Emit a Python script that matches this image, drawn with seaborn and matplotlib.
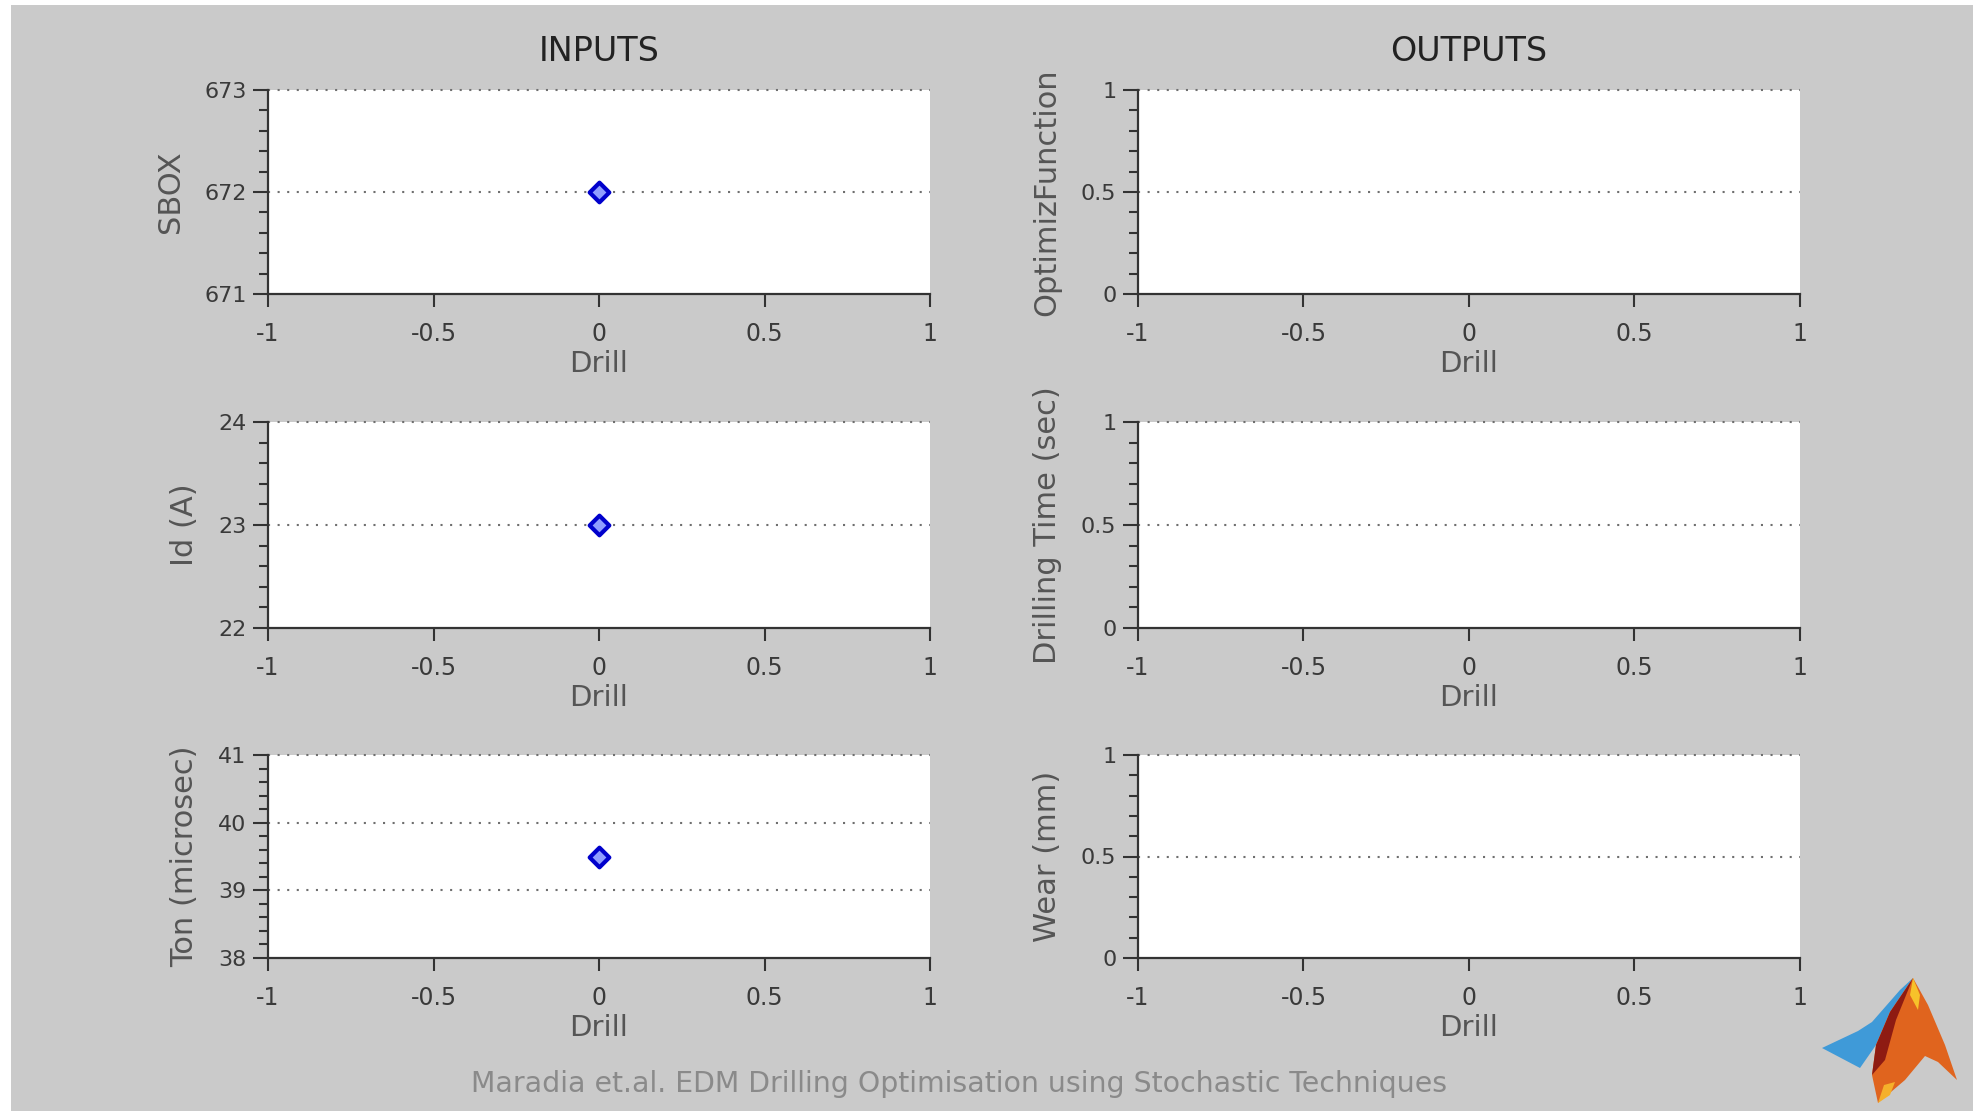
import matplotlib
matplotlib.use("Agg")
import matplotlib.pyplot as plt
import seaborn as sns
import numpy as np
import pandas as pd
from matplotlib.patches import Rectangle, Polygon
from matplotlib.ticker import MultipleLocator, FixedLocator

# ---------------- data ----------------
x_label = "Drill"
x_ticks = [-1, -0.5, 0, 0.5, 1]
x_ticklabels = ["-1", "-0.5", "0", "0.5", "1"]

input_names = ["SBOX", "Id (A)", "Ton (microsec)"]
input_x = [0, 0, 0]
input_values = [672, 23, 39.5]
input_ylims = [(671, 673), (22, 24), (38, 41)]
input_yticks = [[671, 672, 673], [22, 23, 24], [38, 39, 40, 41]]
input_minor = [0.2, 0.2, 0.2]

output_names = ["OptimizFunction", "Drilling Time (sec)", "Wear (mm)"]
output_ylims = [(0, 1), (0, 1), (0, 1)]
output_yticks = [[0, 0.5, 1], [0, 0.5, 1], [0, 0.5, 1]]
output_ticklabels = ["0", "0.5", "1"]
output_minor = [0.1, 0.1, 0.1]

col_titles = ["INPUTS", "OUTPUTS"]
caption = "Maradia et.al. EDM Drilling Optimisation using Stochastic Techniques"

# ---------------- style ----------------
sns.set_style("ticks")
plt.rcParams['font.family'] = ['DejaVu Sans']

BG = "#cacaca"
W, H = 1974, 1111
fig = plt.figure(figsize=(W / 100, H / 100), dpi=100)
fig.patch.set_facecolor(BG)

# white margins on left and top of the screenshot
fig.patches.append(Rectangle((0, 0), 11 / W, 1, transform=fig.transFigure,
                             facecolor="white", edgecolor="none", zorder=0))
fig.patches.append(Rectangle((0, 1 - 5 / H), 1, 5 / H, transform=fig.transFigure,
                             facecolor="white", edgecolor="none", zorder=0))

col_x = [268 / W, 1138 / W]
col_w = (930 - 268) / W
rows = [(90, 294), (422, 628), (755, 958)]

TICK_C = "#3a3a3a"
LAB_C = "#555555"
SPINE_C = "#333333"
XLAB_KW = dict(fontsize=21, color=LAB_C, labelpad=2.5)
YLAB_KW = dict(fontsize=22, color=LAB_C, labelpad=14)


def style_axis(ax, ylim, yticks, yticklabels, minor):
    ax.set_facecolor("white")
    ax.set_xlim(-1, 1)
    ax.set_ylim(*ylim)
    ax.xaxis.set_major_locator(FixedLocator(x_ticks))
    ax.set_xticklabels(x_ticklabels)
    ax.set_yticks(yticks)
    ax.set_yticklabels(yticklabels)
    ax.yaxis.set_minor_locator(MultipleLocator(minor))
    for s in ["top", "right"]:
        ax.spines[s].set_visible(False)
    for s in ["left", "bottom"]:
        ax.spines[s].set_color(SPINE_C)
        ax.spines[s].set_linewidth(1.6)
    ax.tick_params(axis="x", which="major", direction="out", length=9.5, width=1.5,
                   color=SPINE_C, labelsize=17, labelcolor=TICK_C, pad=11)
    ax.tick_params(axis="y", which="major", direction="out", length=10.5, width=1.5,
                   color=SPINE_C, labelsize=16, labelcolor=TICK_C, pad=5)
    ax.tick_params(axis="y", which="minor", direction="out", length=6.5, width=1.5,
                   color=SPINE_C)
    ax.tick_params(axis="x", which="minor", bottom=False)
    ax.grid(False)
    for t in yticks:
        if t == ylim[0]:
            continue
        ax.axhline(t, color="#6f6f6f", linewidth=1.5, linestyle=(0, (1, 3.6)),
                   zorder=1, clip_on=False)


for i in range(3):
    top, bot = rows[i]
    y0 = 1 - bot / H
    h = (bot - top) / H

    # inputs
    ax = fig.add_axes([col_x[0], y0, col_w, h])
    df = pd.DataFrame({"x": [input_x[i]], "y": [input_values[i]]})
    style_axis(ax, input_ylims[i], input_yticks[i],
               [str(v) for v in input_yticks[i]], input_minor[i])
    sns.scatterplot(data=df, x="x", y="y", ax=ax, marker="D", s=100,
                    facecolor="#8f9cff", edgecolor="#0000cc", linewidth=3.0,
                    zorder=5, legend=False)
    ax.set_xlabel(x_label, **XLAB_KW)
    ax.set_ylabel(input_names[i], **YLAB_KW)
    ax.set_xlim(-1, 1)
    ax.set_ylim(*input_ylims[i])
    if i == 0:
        ax.set_title(col_titles[0], fontsize=24, color="#222222", pad=21)

    # outputs
    ax2 = fig.add_axes([col_x[1], y0, col_w, h])
    style_axis(ax2, output_ylims[i], output_yticks[i], output_ticklabels,
               output_minor[i])
    sns.scatterplot(data=pd.DataFrame({"x": [], "y": []}), x="x", y="y", ax=ax2,
                    legend=False)
    ax2.set_xlabel(x_label, **XLAB_KW)
    ax2.set_ylabel(output_names[i], **YLAB_KW)
    ax2.set_xlim(-1, 1)
    ax2.set_ylim(*output_ylims[i])
    if i == 0:
        ax2.set_title(col_titles[1], fontsize=24, color="#222222", pad=21)

fig.text(959 / W, 1 - 1084 / H, caption, ha="center", va="center",
         fontsize=20.4, color="#8a8a8a")

# decorative logo (approximation) in pixel space
lax = fig.add_axes([1780 / W, 0, 194 / W, 161 / H])
lax.set_xlim(1780, 1974)
lax.set_ylim(1111, 950)
lax.axis("off")
lax.add_patch(Polygon([(1822, 1048), (1858, 1031), (1872, 1022), (1900, 990),
                       (1913, 978), (1890, 1012), (1876, 1045), (1860, 1068)],
                      closed=True, facecolor="#3f9ad8", edgecolor="none"))
lax.add_patch(Polygon([(1913, 978), (1928, 1005), (1945, 1045), (1957, 1080),
                       (1938, 1062), (1925, 1056), (1905, 1080), (1878, 1103),
                       (1872, 1075), (1876, 1045), (1890, 1012)],
                      closed=True, facecolor="#e0641e", edgecolor="none"))
lax.add_patch(Polygon([(1913, 978), (1890, 1012), (1876, 1045), (1872, 1075),
                       (1885, 1060), (1896, 1020)],
                      closed=True, facecolor="#8e1b12", edgecolor="none"))
lax.add_patch(Polygon([(1913, 978), (1920, 995), (1918, 1010), (1910, 995)],
                      closed=True, facecolor="#f7c22a", edgecolor="none"))
lax.add_patch(Polygon([(1878, 1103), (1884, 1085), (1895, 1082), (1890, 1095)],
                      closed=True, facecolor="#f5b02a", edgecolor="none"))

fig.savefig("out.png", dpi=100, facecolor=fig.get_facecolor())
